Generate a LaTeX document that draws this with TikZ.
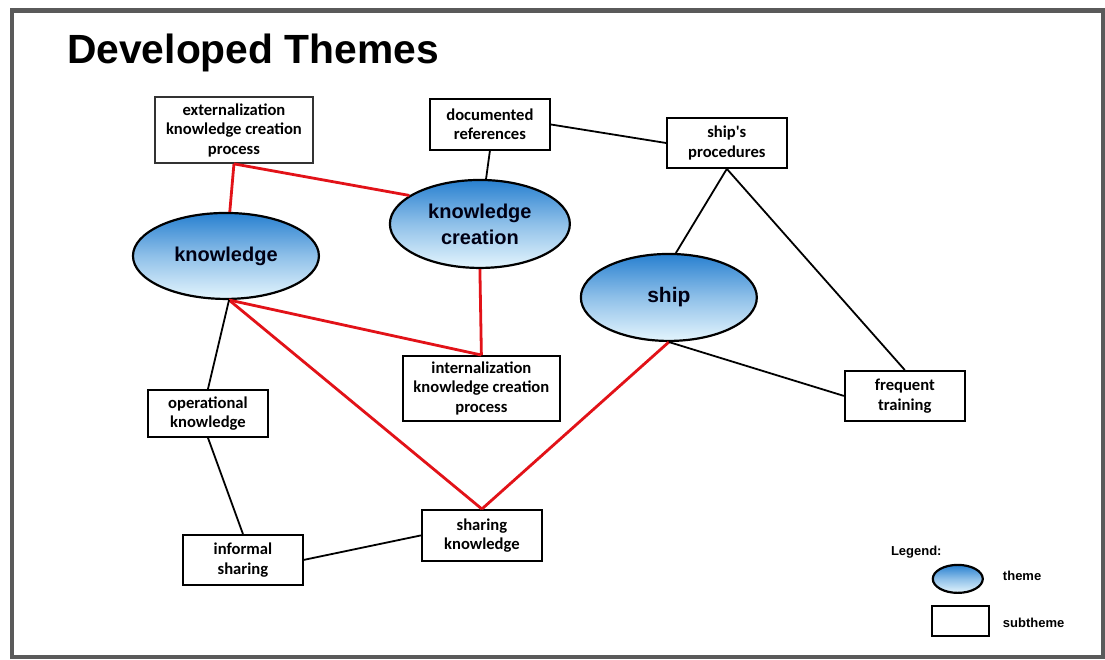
\documentclass[tikz,border=0pt]{standalone}
\usepackage{fontspec}
\setmainfont{Liberation Sans}
\newfontfamily\boxfont{Carlito}
\usetikzlibrary{shapes.geometric,shadows}

\definecolor{themetop}{RGB}{40,128,208}
\definecolor{themebottom}{RGB}{228,245,253}
\definecolor{linkred}{RGB}{226,18,24}
\definecolor{framegray}{RGB}{90,90,90}

\begin{document}
\begin{tikzpicture}[x=1pt,y=-1pt,
  theme/.style={ellipse, draw=black, line width=2.2pt,
    top color=themetop, bottom color=themebottom, middle color=themetop!45!themebottom,
    inner sep=0pt, align=center, text=black!92!blue,
    font=\bfseries\fontsize{20}{26}\selectfont},
  subtheme/.style={rectangle, draw=black, line width=1.8pt, fill=white,
    minimum width=120pt, minimum height=50pt, inner sep=2pt, align=center,
    font=\boxfont\bfseries\fontsize{16.6}{19.5}\selectfont},
  link/.style={line width=1.8pt, black},
  keylink/.style={line width=2.8pt, linkred},
  legendtext/.style={inner sep=0pt, font=\bfseries\fontsize{13}{15}\selectfont}]

% page and frame
\fill[white] (0,0) rectangle (1105,659);
\draw[framegray, line width=4.5pt] (12,10.5) rectangle (1103,657);

% title
\node[anchor=base west, inner sep=0pt, font=\bfseries\fontsize{40.8}{46}\selectfont]
  (title) at (67,64) {Developed Themes};

% themes
\node[theme, minimum width=186pt, minimum height=86pt] (know) at (226,256) {knowledge};
\node[theme, minimum width=180pt, minimum height=88pt] (kc) at (480,224) {knowledge\\creation};
\node[theme, minimum width=176pt, minimum height=87pt, font=\bfseries\fontsize{21}{26}\selectfont] (ship) at (669,297.5) {ship};

% subthemes
\node[subtheme, minimum width=158pt, minimum height=66pt, draw=black!80,
  drop shadow={shadow xshift=1.5pt, shadow yshift=-1.5pt, fill=black!45, opacity=1}]
  (ext) at (234,130) {externalization\\knowledge creation\\process};
\node[subtheme, minimum height=51pt] (doc) at (490,124.5) {documented\\references};
\node[subtheme] (proc) at (727,143) {ship's\\procedures};
\node[subtheme, minimum width=157pt, minimum height=65pt] (int) at (481.5,388.5) {internalization\\knowledge creation\\process};
\node[subtheme, minimum height=47pt] (oper) at (208,413.5) {operational\\knowledge};
\node[subtheme] (inf) at (243,560) {informal\\sharing};
\node[subtheme, minimum height=51pt] (share) at (482,535.5) {sharing\\knowledge};
\node[subtheme] (freq) at (905,396) {frequent\\training};

% links between themes and subthemes
\draw[keylink] (ext.south) -- (know);
\draw[keylink] (ext.south) -- (kc.158);
\draw[keylink] (kc.south) -- (int.north);
\draw[keylink] (know.-86) -- (int.north);
\draw[keylink] (know.-86) -- (share.north);
\draw[keylink] (ship.south) -- (share.north);

\draw[link] (doc.south) -- (kc);
\draw[link] (doc.east) -- (proc.west);
\draw[link] (proc.south) -- (ship.81);
\draw[link] (proc.south) -- (freq.north);
\draw[link] (ship.south) -- (freq.west);
\draw[link] (know.-86) -- (oper.north);
\draw[link] (oper.south) -- (inf.north);
\draw[link] (inf.east) -- (share.west);

% legend
\node[legendtext, anchor=west] (lgtitle) at (891,552) {Legend:};
\node[theme, minimum width=50pt, minimum height=28pt] (lgtheme) at (958,579) {};
\node[legendtext, anchor=west] (lgthemetext) at (1003,576) {theme};
\node[rectangle, draw=black, line width=2.4pt, minimum width=57pt, minimum height=30pt] (lgsub) at (960.5,621) {};
\node[legendtext, anchor=west] (lgsubtext) at (1003,623) {subtheme};
\end{tikzpicture}
\end{document}
